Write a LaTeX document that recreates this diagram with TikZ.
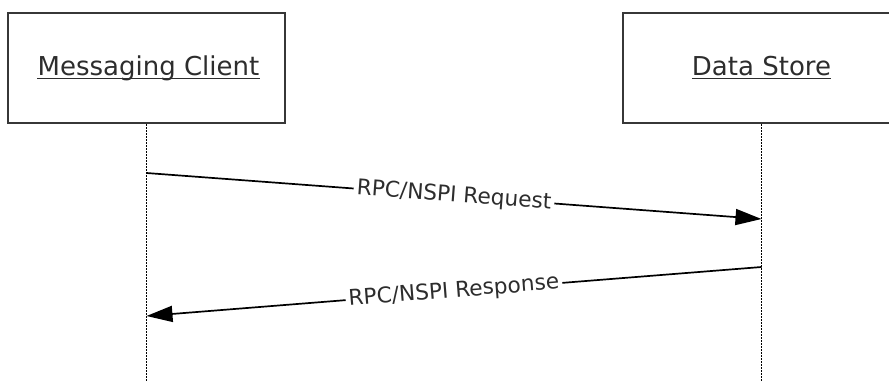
\documentclass[tikz,border=0pt]{standalone}
\usepackage{fontspec}
\setmainfont{DejaVu Sans}
\usetikzlibrary{arrows.meta}
\definecolor{boxgray}{RGB}{55,55,55}
\definecolor{txtgray}{RGB}{45,45,45}
\begin{document}
\begin{tikzpicture}[x=1pt,y=-1pt,
  actor/.style={draw=boxgray, line width=2pt, minimum width=277pt, minimum height=110pt, inner sep=0pt},
  actorlbl/.style={inner sep=0pt, text=txtgray, font=\fontsize{26}{30}\selectfont},
  uline/.style={draw=txtgray, line width=1.3pt},
  lifeline/.style={draw=black, line width=1.2pt, dash pattern=on 1.5pt off 1.5pt},
  msg/.style={draw=black, line width=1.7pt, -{Triangle[length=26pt,width=16pt]}},
  msglbl/.style={fill=white, inner sep=3pt, text=txtgray, sloped, font=\fontsize{21.7}{26}\selectfont}]
\useasboundingbox (0,0) rectangle (889,381);
\clip (0,0) rectangle (889,381);
% actors
\node[actor] (mc) at (146.5,68) {};
\node[actor] (ds) at (761.5,68) {};
\node[actorlbl, anchor=base] (mcl) at (148.5,75) {Messaging Client};
\node[actorlbl, anchor=base] (dsl) at (761.5,75) {Data Store};
\draw[uline] ([yshift=-3.5pt]mcl.base west) -- ([yshift=-3.5pt]mcl.base east);
\draw[uline] ([yshift=-3.5pt]dsl.base west) -- ([yshift=-3.5pt]dsl.base east);
% lifelines
\coordinate (mcb) at (146.5,381);
\coordinate (dsb) at (761.5,381);
\draw[lifeline] (mc.south) -- (mcb);
\draw[lifeline] (ds.south) -- (dsb);
% messages
\coordinate (r1s) at (146.5,173);
\coordinate (r1e) at (761.5,219);
\coordinate (r2s) at (761.5,267);
\coordinate (r2e) at (146.5,316);
\draw[msg] (r1s) -- node[msglbl] {RPC/NSPI Request} (r1e);
\draw[msg] (r2s) -- node[msglbl] {RPC/NSPI Response} (r2e);
\end{tikzpicture}
\end{document}
